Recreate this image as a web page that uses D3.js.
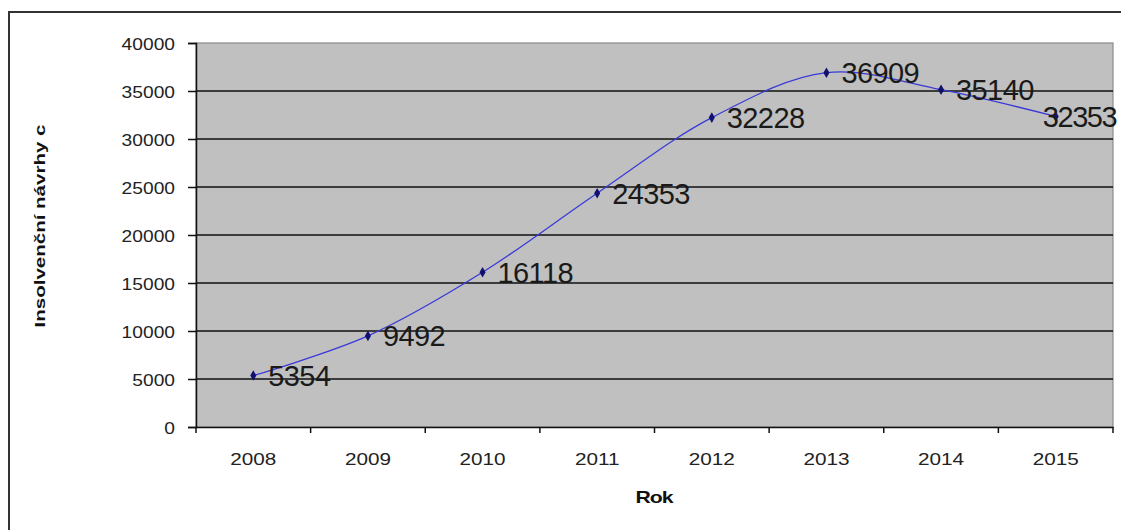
<!DOCTYPE html>
<html>
<head>
<meta charset="utf-8">
<script src="https://cdn.jsdelivr.net/npm/d3@7"></script>
<style>
  html, body { margin: 0; padding: 0; background: #fff; }
  svg { display: block; }
  text { font-family: "Liberation Sans", Arial, sans-serif; }
</style>
</head>
<body>
<svg id="chart" width="1121" height="530"></svg>
<script>
const years = ["2008", "2009", "2010", "2011", "2012", "2013", "2014", "2015"];
const values = [5354, 9492, 16118, 24353, 32228, 36909, 35140, 32353];
const yTicks = [0, 5000, 10000, 15000, 20000, 25000, 30000, 35000, 40000];
const xTitle = "Rok";
const yTitle = "Insolvenční návrhy c";

const svg = d3.select("#chart");
const W = 1121, H = 530;
const margin = { left: 196, top: 43, right: 8, bottom: 103 };
const pw = W - margin.left - margin.right;
const ph = H - margin.top - margin.bottom;

// outer frame (clipped at right/bottom like the reference)
svg.append("rect")
  .attr("x", 9).attr("y", 12)
  .attr("width", W).attr("height", H)
  .attr("fill", "none").attr("stroke", "#333").attr("stroke-width", 2);

const g = svg.append("g").attr("transform", `translate(${margin.left},${margin.top})`);

const x = d3.scaleBand().domain(years).range([0, pw]).paddingInner(0).paddingOuter(0);
const y = d3.scaleLinear().domain([0, 40000]).range([ph, 0]);

// plot background
g.append("rect")
  .attr("x", 0).attr("y", 0).attr("width", pw).attr("height", ph)
  .attr("fill", "#c0c0c0").attr("stroke", "#8a8a8a").attr("stroke-width", 1.2);

// gridlines
g.append("g").selectAll("line")
  .data(yTicks.filter(d => d > 0 && d < 40000))
  .join("line")
  .attr("x1", 0).attr("x2", pw)
  .attr("y1", d => y(d)).attr("y2", d => y(d))
  .attr("stroke", "#111").attr("stroke-width", 1.5);

// y axis
const yAxis = g.append("g")
  .call(d3.axisLeft(y).tickValues(yTicks).tickSize(8).tickPadding(12).tickFormat(d3.format("d")));
yAxis.select(".domain").attr("stroke", "#111").attr("stroke-width", 1.5);
yAxis.selectAll(".tick line").attr("stroke", "#111").attr("stroke-width", 1.5);
yAxis.selectAll(".tick text")
  .attr("font-size", 17).attr("fill", "#222")
  .attr("x", null).attr("dy", null)
  .attr("transform", "translate(-21,6) scale(1.13,1)");

// x axis (labels centered on bands, ticks at band edges)
const xAxis = g.append("g").attr("transform", `translate(0,${ph})`)
  .call(d3.axisBottom(x).tickSize(0).tickPadding(0));
xAxis.select(".domain").attr("stroke", "#111").attr("stroke-width", 1.5);
xAxis.selectAll(".tick text")
  .attr("font-size", 17).attr("fill", "#222")
  .attr("y", null).attr("dy", null)
  .attr("transform", "translate(0,38) scale(1.22,1)");
const edges = years.map(d => x(d)).concat([x.range()[1]]);
xAxis.append("g").selectAll("line")
  .data(edges).join("line")
  .attr("x1", d => d).attr("x2", d => d)
  .attr("y1", 0).attr("y2", 6)
  .attr("stroke", "#111").attr("stroke-width", 1.5);

// line
const cx = d => x(d) + x.bandwidth() / 2;
const pts = years.map((yr, i) => [cx(yr), y(values[i])]);
g.append("path")
  .attr("d", d3.line().curve(d3.curveCatmullRom.alpha(0.5))(pts))
  .attr("fill", "none").attr("stroke", "#3a3ad8").attr("stroke-width", 1.3);

// markers
g.append("g").selectAll("path")
  .data(pts).join("path")
  .attr("d", d3.symbol(d3.symbolDiamond, 32))
  .attr("transform", d => `translate(${d[0]},${d[1]})`)
  .attr("fill", "#101070");

// data labels (last one pulled left over its marker, as in the reference)
const lastIdx = years.length - 1;
g.append("g").selectAll("text")
  .data(years.map((yr, i) => ({ p: pts[i], v: values[i], i })))
  .join("text")
  .attr("x", d => d.i === lastIdx ? d.p[0] - 13 : d.p[0] + 15)
  .attr("y", d => d.p[1])
  .attr("dy", "0.36em")
  .attr("font-size", 29)
  .attr("letter-spacing", d => d.i === lastIdx ? -1.4 : -0.6)
  .attr("fill", "#1a1a1a")
  .text(d => d.v);

// axis titles
svg.append("text")
  .attr("transform", "translate(654,503) scale(1.25,1)")
  .attr("text-anchor", "middle")
  .attr("font-size", 17).attr("font-weight", "bold").attr("letter-spacing", -0.8)
  .attr("fill", "#111")
  .text(xTitle);

svg.append("text")
  .attr("transform", "translate(45,226) rotate(-90)")
  .attr("text-anchor", "middle")
  .attr("font-size", 14).attr("font-weight", "bold")
  .attr("textLength", 203).attr("lengthAdjust", "spacingAndGlyphs")
  .attr("fill", "#111")
  .text(yTitle);
</script>
</body>
</html>
